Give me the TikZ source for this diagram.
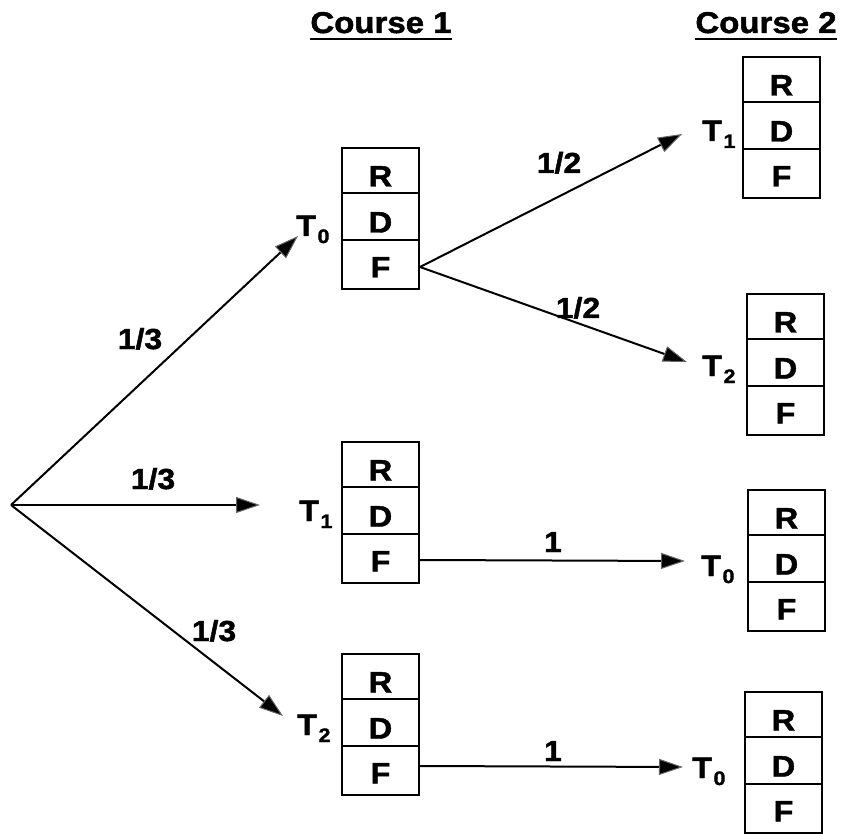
\documentclass[tikz,border=0pt]{standalone}
\usepackage{fontspec}
\setmainfont{Liberation Sans}[FakeStretch=1.1, BoldFeatures={FakeBold=1.6}]
\usetikzlibrary{arrows.meta}
\newcommand{\Tlab}[1]{T\kern1.5pt\raisebox{-7pt}{\fontsize{19.5}{19.5}\selectfont\bfseries #1}}
\tikzset{
  boxnode/.style={draw, line width=2pt, minimum width=77pt, minimum height=141pt, inner sep=0pt},
  divline/.style={line width=2.6pt},
  letter/.style={font=\fontsize{29.5}{29.5}\selectfont\bfseries, anchor=base, inner sep=0pt},
  tlab/.style={font=\fontsize{29.5}{29.5}\selectfont\bfseries, anchor=base west, inner sep=0pt},
  elab/.style={font=\fontsize{29}{29}\selectfont\bfseries, anchor=base, inner sep=0pt},
  title/.style={font=\fontsize{30}{30}\selectfont\bfseries, anchor=base, inner sep=0pt},
  ul/.style={line width=2pt},
  arr/.style={line width=2pt, -{Triangle[length=24pt,width=16pt,fill=black,color=gray!80!black,line width=1pt]}},
}
\newcommand{\rdfbox}[3]{%
  \node[boxnode] (#1) at (#2+38.5,#3+70.5) {};
  \draw[divline] ([yshift=-46pt]#1.north west) -- ([yshift=-46pt]#1.north east);
  \draw[divline] ([yshift=-93pt]#1.north west) -- ([yshift=-93pt]#1.north east);
  \node[letter] (#1-r) at (#2+38.5,#3+38.5) {R};
  \node[letter] (#1-d) at (#2+38.5,#3+84.5) {D};
  \node[letter] (#1-f) at (#2+38.5,#3+129.5) {F};
}
\begin{document}
\begin{tikzpicture}[x=1pt,y=-1pt]
\useasboundingbox (0,0) rectangle (846,834);
% titles
\node[title] (h1) at (381,33) {Course 1};
\draw[ul] ([yshift=-6pt]h1.base west) -- ([yshift=-6pt]h1.base east);
\node[title] (h2) at (766,33) {Course 2};
\draw[ul] ([yshift=-6pt]h2.base west) -- ([yshift=-6pt]h2.base east);
% boxes
\rdfbox{c1t0}{342}{148}
\rdfbox{c1t1}{342}{442}
\rdfbox{c1t2}{342}{654}
\rdfbox{c2t1}{743}{57}
\rdfbox{c2t2}{747}{294}
\rdfbox{c2t0a}{748}{490}
\rdfbox{c2t0b}{745}{692}
% T labels
\node[tlab] (l-c1t0) at (296,236) {\Tlab{0}};
\node[tlab] (l-c1t1) at (299,521) {\Tlab{1}};
\node[tlab] (l-c1t2) at (297,735) {\Tlab{2}};
\node[tlab] (l-c2t1) at (702,141) {\Tlab{1}};
\node[tlab] (l-c2t2) at (702,376) {\Tlab{2}};
\node[tlab] (l-c2t0a) at (701,576) {\Tlab{0}};
\node[tlab] (l-c2t0b) at (692,778) {\Tlab{0}};
% coordinates
\coordinate (root) at (11,505);
\coordinate (tip1) at (298,236);
\coordinate (tip2) at (260,505);
\coordinate (tip3) at (283,716);
\coordinate (tip4) at (682,134);
\coordinate (tip5) at (687,362);
\coordinate (tip6) at (685,561);
\coordinate (tip7) at (683,767);
% arrows
\draw[arr] (root) -- (tip1);
\draw[arr] (root) -- (tip2);
\draw[arr] (root) -- (tip3);
\draw[arr] ([yshift=-120pt]c1t0.north east) -- (tip4);
\draw[arr] ([yshift=-120pt]c1t0.north east) -- (tip5);
\draw[arr] ([yshift=-119pt]c1t1.north east) -- (tip6);
\draw[arr] ([yshift=-113pt]c1t2.north east) -- (tip7);
% edge labels
\node[elab] (e1) at (140,349) {1/3};
\node[elab] (e2) at (153,489) {1/3};
\node[elab] (e3) at (214,641) {1/3};
\node[elab] (e4) at (559,173) {1/2};
\node[elab] (e5) at (578,318) {1/2};
\node[elab] (e6) at (553,552) {1};
\node[elab] (e7) at (553,761) {1};
\end{tikzpicture}
\end{document}
